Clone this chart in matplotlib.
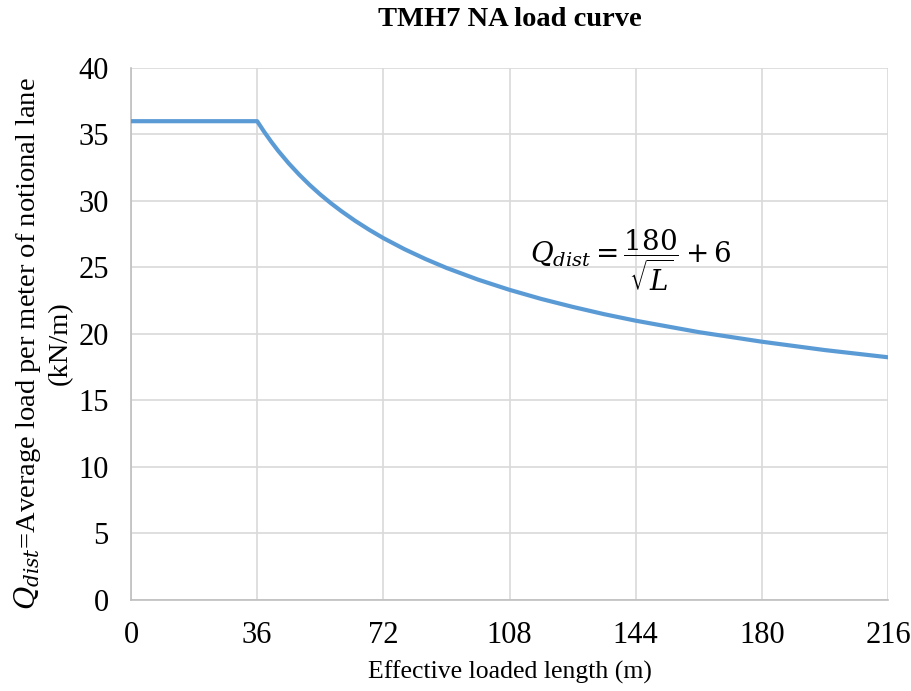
import matplotlib

matplotlib.use("Agg")
import matplotlib.pyplot as plt

loaded_length = [0, 36, 38, 40, 42, 45, 48, 51, 54, 57, 60, 64, 68, 72, 78, 84, 90, 99,
                 108, 117, 126, 135, 144, 162, 180, 198, 216]
load_per_m = [36.00, 36.00, 35.20, 34.46, 33.77, 32.83, 31.98, 31.20, 30.49, 29.84, 29.24,
              28.50, 27.83, 27.21, 26.38, 25.64, 24.97, 24.09, 23.32, 22.64, 22.04, 21.49,
              21.00, 20.14, 19.42, 18.79, 18.25]

x_ticks = [0, 36, 72, 108, 144, 180, 216]
y_ticks = [0, 5, 10, 15, 20, 25, 30, 35, 40]

plt.rcParams["font.family"] = ["Liberation Serif", "DejaVu Serif"]
plt.rcParams["mathtext.fontset"] = "dejavuserif"

fig = plt.figure(figsize=(9.11, 6.91), dpi=100)
ax = fig.add_axes([0.1438, 0.1317, 0.831, 0.7699])

ax.plot(loaded_length, load_per_m, color="#5b9bd5", lw=3, solid_joinstyle="round", zorder=3)

ax.set_xlim(0, 216)
ax.set_ylim(0, 40)
ax.set_xticks(x_ticks)
ax.set_yticks(y_ticks)
ax.grid(True, color="#d9d9d9", lw=1.2)
ax.set_axisbelow(True)
for side in ("top", "right"):
    ax.spines[side].set_visible(False)
for side in ("left", "bottom"):
    ax.spines[side].set_color("#bfbfbf")
    ax.spines[side].set_linewidth(1.2)
ax.tick_params(length=0, labelsize=22)
ax.tick_params(axis="x", pad=15)
ax.tick_params(axis="y", pad=16)

ax.set_title("TMH7 NA load curve", fontsize=20.5, fontweight="bold", pad=30)
ax.set_xlabel("Effective loaded length (m)", fontsize=18.5, labelpad=8)
ax.set_ylabel("$Q_{dist}$=Average load per meter of notional lane\n(kN/m)",
              fontsize=20.5, labelpad=4, linespacing=1.25)
ax.yaxis.label.set_y(0.482)

ax.text(0.527, 0.639, r"$Q_{dist} = \dfrac{180}{\sqrt{L}} + 6$", transform=ax.transAxes,
        fontsize=20, ha="left", va="center")

fig.savefig("out.png", dpi=100)
